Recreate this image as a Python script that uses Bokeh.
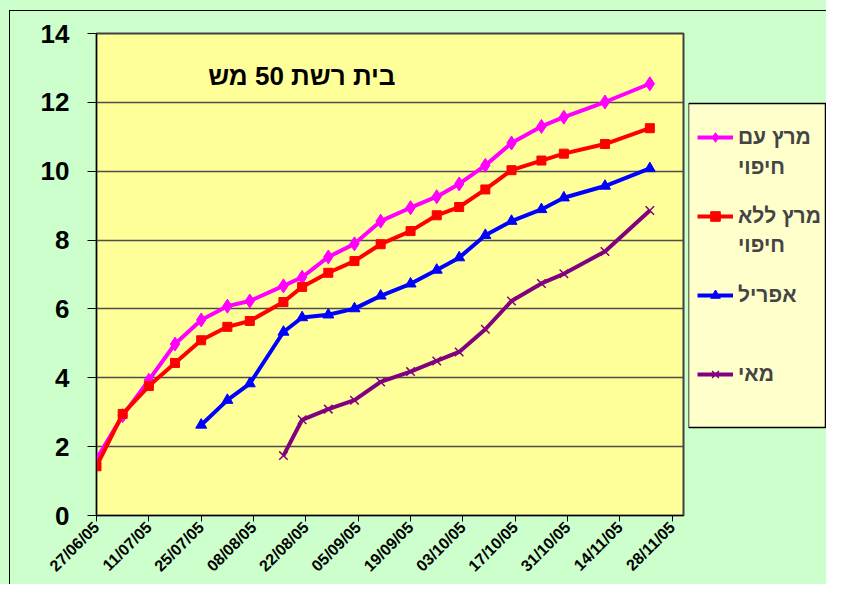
import math
import pandas as pd
from bokeh.plotting import figure
from bokeh.layouts import row
from bokeh.models import (FixedTicker, DatetimeTickFormatter, Legend, LegendItem,
                          Label, Range1d, BoxAnnotation, InlineStyleSheet)
from bokeh.embed import file_html
from bokeh.resources import INLINE

NAN = float("nan")

# ---- data ----
dates = ["2005-06-27", "2005-07-04", "2005-07-11", "2005-07-18", "2005-07-25",
         "2005-08-01", "2005-08-07", "2005-08-16", "2005-08-21", "2005-08-28",
         "2005-09-04", "2005-09-11", "2005-09-19", "2005-09-26", "2005-10-02",
         "2005-10-09", "2005-10-16", "2005-10-24", "2005-10-30", "2005-11-10",
         "2005-11-22"]
march_cover = [1.64, 2.90, 3.93, 4.98, 5.68, 6.08, 6.23, 6.67, 6.92, 7.51, 7.89,
               8.55, 8.94, 9.26, 9.63, 10.17, 10.82, 11.30, 11.57, 12.01, 12.54]
march_nocover = [1.43, 2.95, 3.76, 4.43, 5.09, 5.48, 5.65, 6.20, 6.64, 7.05, 7.39,
                 7.88, 8.26, 8.72, 8.96, 9.47, 10.03, 10.31, 10.51, 10.79, 11.25]
april = [NAN, NAN, NAN, NAN, 2.63, 3.35, 3.83, 5.33, 5.75, 5.83, 6.01,
         6.38, 6.73, 7.13, 7.49, 8.14, 8.55, 8.89, 9.23, 9.57, 10.08]
may = [NAN, NAN, NAN, NAN, NAN, NAN, NAN, 1.74, 2.78, 3.09, 3.35,
       3.88, 4.18, 4.49, 4.75, 5.41, 6.23, 6.74, 7.02, 7.67, 8.86]

# legend names: first line / second line (wrapped as in the reference)
series_line1 = ["מרץ עם", "מרץ ללא", "אפריל", "מאי"]
series_line2 = ["חיפוי", "חיפוי"]
chart_title = "בית רשת 50 מש"
x_tick_dates = ["2005-06-27", "2005-07-11", "2005-07-25", "2005-08-08", "2005-08-22",
                "2005-09-05", "2005-09-19", "2005-10-03", "2005-10-17", "2005-10-31",
                "2005-11-14", "2005-11-28"]
x_start, x_end = "2005-06-27", "2005-12-01"
y_ticks = [0, 2, 4, 6, 8, 10, 12, 14]

colors = ["#FF00FF", "#FF0000", "#0000FF", "#800080"]
GREEN = "#CCFFCC"
FONT = "Liberation Sans"
TOP, BOTTOM = 33, 69

# ---- main figure ----
x = pd.to_datetime(dates)
epoch = pd.Timestamp("1970-01-01")
tick_ms = [int((pd.Timestamp(d) - epoch) / pd.Timedelta(milliseconds=1)) for d in x_tick_dates]

p = figure(width=688, height=584, x_axis_type="datetime",
           x_range=Range1d(pd.Timestamp(x_start), pd.Timestamp(x_end)),
           y_range=Range1d(0, 14),
           output_backend="svg", toolbar_location=None,
           min_border_left=96, min_border_right=5,
           min_border_top=TOP, min_border_bottom=BOTTOM)

p.border_fill_color = GREEN
p.background_fill_color = "#FFFF99"
p.outline_line_color = "#404040"
p.outline_line_width = 2

p.xgrid.visible = False
p.ygrid.grid_line_color = "#4d4d4d"
p.ygrid.grid_line_width = 1.5

p.yaxis.ticker = FixedTicker(ticks=y_ticks)
p.yaxis.major_label_text_font = FONT
p.yaxis.major_label_text_font_style = "bold"
p.yaxis.major_label_text_font_size = "26px"
p.yaxis.major_label_text_color = "black"
p.yaxis.major_tick_out = 9
p.yaxis.major_tick_in = 0
p.yaxis.minor_tick_out = 0
p.yaxis.minor_tick_in = 0
p.yaxis.major_label_standoff = 18
p.yaxis.axis_line_color = "black"
p.yaxis.major_tick_line_color = "black"

fmt = "%d/%m/%y"
p.xaxis.ticker = FixedTicker(ticks=tick_ms)
p.xaxis.formatter = DatetimeTickFormatter(
    microseconds=fmt, milliseconds=fmt, seconds=fmt, minsec=fmt, minutes=fmt,
    hourmin=fmt, hours=fmt, days=fmt, months=fmt, years=fmt)
p.xaxis.major_label_orientation = math.pi / 4
p.xaxis.major_label_text_font = FONT
p.xaxis.major_label_text_font_style = "bold"
p.xaxis.major_label_text_font_size = "16px"
p.xaxis.major_label_text_color = "black"
p.xaxis.major_label_standoff = 3
p.xaxis.major_tick_out = 6
p.xaxis.major_tick_in = 0
p.xaxis.minor_tick_out = 0
p.xaxis.minor_tick_in = 0
p.xaxis.axis_line_color = "black"
p.xaxis.major_tick_line_color = "black"

series = [march_cover, march_nocover, april, may]
markers = ["diamond", "square", "triangle", "x"]
sizes = [14, 9, 11, 12]


def add_series(fig, xs, vals, c, m, s):
    rl = fig.line(xs, vals, line_color=c, line_width=4)
    if m == "x":
        rm = fig.scatter(xs, vals, marker=m, size=s, line_color=c, line_width=1.5)
    else:
        rm = fig.scatter(xs, vals, marker=m, size=s, color=c)
    return rl, rm


for vals, c, m, s in zip(series, colors, markers, sizes):
    add_series(p, x, vals, c, m, s)

title = Label(x=299, y=440, x_units="screen", y_units="screen", text=chart_title,
              text_align="right", text_baseline="middle", text_font=FONT,
              text_font_style="bold", text_font_size="26px", text_color="black")
p.add_layout(title)

# outer chart-area border (left and top edges, as in the reference)
p.stylesheets = [InlineStyleSheet(css=(
    ":host::after { content: ''; position: absolute; left: 9px; top: 10px; "
    "right: 0; bottom: 0; border-left: 1px solid black; border-top: 1px solid black; "
    "pointer-events: none; z-index: 10; }"))]

# ---- legend panel ----
q = figure(width=138, height=584, x_range=Range1d(0, 1), y_range=Range1d(0, 1),
           output_backend="svg", toolbar_location=None,
           min_border_left=0, min_border_right=0,
           min_border_top=TOP, min_border_bottom=BOTTOM)
q.axis.visible = False
q.grid.visible = False
q.border_fill_color = GREEN
q.background_fill_color = GREEN
q.outline_line_color = None
q.stylesheets = [InlineStyleSheet(css=(
    ":host::after { content: ''; position: absolute; left: 0; top: 10px; "
    "right: 0; height: 0; border-top: 1px solid black; "
    "pointer-events: none; z-index: 10; }"))]

box = BoxAnnotation(left=0, right=137, bottom=88, top=412,
                    left_units="screen", right_units="screen",
                    bottom_units="screen", top_units="screen",
                    fill_color="#FFFFCC", fill_alpha=1,
                    line_color="black", line_alpha=1, line_width=1.5)
q.add_layout(box)

items1 = []
for name, c, m, s in zip(series_line1, colors, markers, sizes):
    rl, rm = add_series(q, [NAN], [NAN], c, m, s)
    items1.append(LegendItem(label=name, renderers=[rl, rm]))

blank = q.line([NAN], [NAN], line_alpha=0)
items2 = [LegendItem(label=name, renderers=[blank]) for name in series_line2]


def style_legend(lg, spacing):
    lg.background_fill_alpha = 0
    lg.border_line_alpha = 0
    lg.label_text_font = FONT
    lg.label_text_font_style = "bold"
    lg.label_text_font_size = "21px"
    lg.glyph_width = 36
    lg.glyph_height = 24
    lg.label_height = 24
    lg.label_standoff = 5
    lg.padding = 0
    lg.spacing = spacing
    lg.margin = 0


leg1 = Legend(items=items1, location=(9, 129))
style_legend(leg1, 55)
leg2 = Legend(items=items2, location=(9, 258))
style_legend(leg2, 54)
q.add_layout(leg1, "center")
q.add_layout(leg2, "center")

layout = row(p, q, styles={"background-color": GREEN})
open("out.html", "w").write(file_html(layout, INLINE))
